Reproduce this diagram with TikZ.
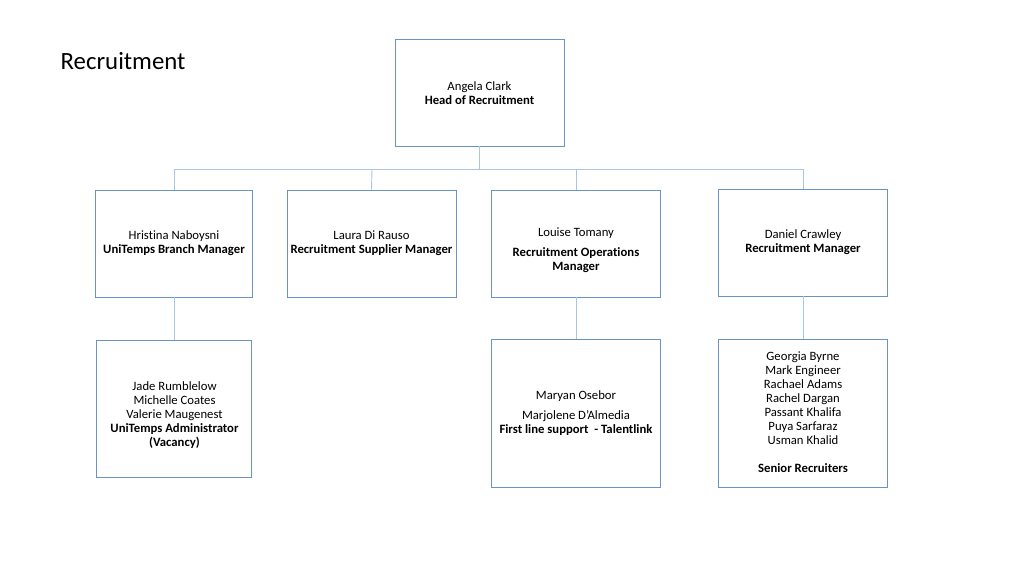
\documentclass[tikz,border=0pt]{standalone}
\usepackage{fontspec}
\setmainfont[Ligatures={NoCommon}]{Carlito}
\definecolor{boxc}{HTML}{6A93C4}
\definecolor{linec}{HTML}{A9C6E3}
\begin{document}
\begin{tikzpicture}[x=1pt,y=-1pt,
  box/.style={draw=boxc,line width=0.85pt,fill=white,inner sep=0pt},
  txt/.style={align=center,font=\fontsize{12.7}{14}\selectfont,inner sep=0pt},
  conn/.style={draw=linec,line width=0.9pt}]
\useasboundingbox (0,0) rectangle (1024,576);
\node[anchor=west,font=\fontsize{24.8}{28}\selectfont,inner sep=0pt] (title) at (60.5,61) {Recruitment};
% junctions
\coordinate (j0) at (479.5,169);
\coordinate (j1) at (174,169);
\coordinate (j2) at (372,169);
\coordinate (j3) at (576,169);
\coordinate (j4) at (803,169);
% boxes
\node[box,minimum width=169pt,minimum height=107pt] (b0) at (479.5,92.5) {};
\node[box,minimum width=157pt,minimum height=107pt] (b1) at (174,243.5) {};
\node[box,minimum width=169pt,minimum height=107pt] (b2) at (371.5,243.5) {};
\node[box,minimum width=169pt,minimum height=107pt] (b3) at (576,243.5) {};
\node[box,minimum width=169pt,minimum height=107pt] (b4) at (803,242.5) {};
\node[box,minimum width=155pt,minimum height=137pt] (b5) at (174,408.5) {};
\node[box,minimum width=169pt,minimum height=148pt] (b6) at (576,413) {};
\node[box,minimum width=169pt,minimum height=148pt] (b7) at (803,413) {};
\draw[conn] (b0.south) -- (j0);
\draw[conn] (j1) -- (j4);
\draw[conn] (j1) -- (b1.north);
\draw[conn] (j2) -- (b2.north);
\draw[conn] (j3) -- (b3.north);
\draw[conn] (j4) -- (b4.north);
\draw[conn] (b1.south) -- (b5.north);
\draw[conn] (b3.south) -- (b6.north);
\draw[conn] (b4.south) -- (b7.north);
% texts
\node[txt] (t0) at (479.5,93) {Angela Clark\\\textbf{Head of Recruitment}};
\node[txt] (t1) at (174,243.5) {Hristina Naboysni\\\textbf{UniTemps Branch Manager}};
\node[txt] (t2) at (371.5,243.5) {Laura Di Rauso\\\textbf{Recruitment Supplier Manager}};
\node[txt] (t3) at (576,250) {Louise Tomany\\[6pt]\textbf{Recruitment Operations}\\\textbf{Manager}};
\node[txt] (t4) at (803,242.5) {Daniel Crawley\\\textbf{Recruitment Manager}};
\node[txt] (t5) at (174.5,415) {Jade Rumblelow\\Michelle Coates\\Valerie Maugenest\\\textbf{UniTemps Administrator}\\\textbf{(Vacancy)}};
\node[txt] (t6) at (576,413) {Maryan Osebor\\[6pt]Marjolene D’Almedia\\\textbf{First line support\ \ - Talentlink}};
\node[txt] (t7) at (803,412.5) {Georgia Byrne\\Mark Engineer\\Rachael Adams\\Rachel Dargan\\Passant Khalifa\\Puya Sarfaraz\\Usman Khalid\\[14pt]\textbf{Senior Recruiters}};
\end{tikzpicture}
\end{document}
